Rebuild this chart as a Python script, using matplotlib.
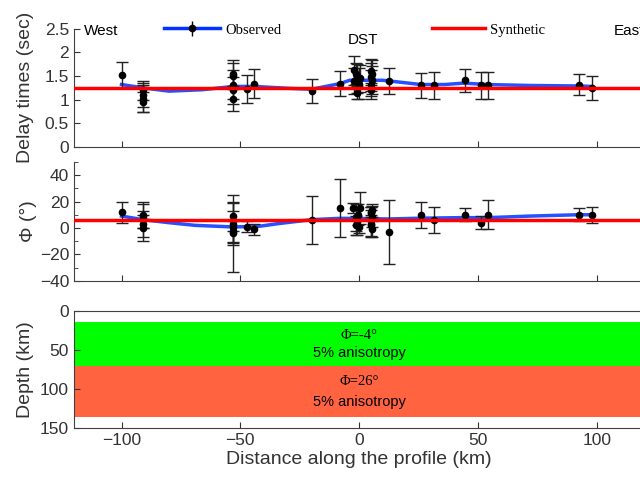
import matplotlib
matplotlib.use('Agg')
import matplotlib.pyplot as plt
from matplotlib.lines import Line2D
from matplotlib.legend_handler import HandlerTuple
from matplotlib.ticker import MultipleLocator

plt.rcParams['font.family'] = ['Liberation Sans', 'DejaVu Sans']

# delay times (sec) per station
delay_x = [-100, -91, -91, -91, -91, -53, -53, -53, -53, -53, -47.3, -44.3, -19.8, -7.9,
           -2, -1.5, -1, -2, 0, -1, 0.5, 5, 5.5, 5, 5.5, 5, 5,
           12.4, 26.1, 31.4, 44.4, 51.4, 54.2, 92.6, 98.2]
delay_y = [1.52, 1.20, 1.10, 1.02, 0.95, 1.55, 1.50, 1.32, 1.20, 1.02, 1.23, 1.34, 1.18, 1.34,
           1.62, 1.55, 1.45, 1.40, 1.34, 1.15, 1.45, 1.61, 1.54, 1.48, 1.41, 1.32, 1.20,
           1.39, 1.30, 1.30, 1.41, 1.30, 1.30, 1.32, 1.25]
delay_err = [0.27, 0.20, 0.25, 0.28, 0.22, 0.29, 0.28, 0.30, 0.29, 0.27, 0.30, 0.30, 0.25, 0.27,
             0.30, 0.22, 0.30, 0.28, 0.32, 0.14, 0.28, 0.26, 0.30, 0.30, 0.30, 0.30, 0.12,
             0.28, 0.27, 0.29, 0.24, 0.29, 0.29, 0.23, 0.25]

# observed trend (blue) and synthetic (red)
delay_line_x = [-100, -91, -80, -66, -53, -44, -30, -20, -8, -4, 0, 10, 19, 26, 36, 44, 54, 72, 92, 98]
delay_line_y = [1.32, 1.25, 1.18, 1.21, 1.28, 1.28, 1.24, 1.22, 1.34, 1.41, 1.41, 1.41, 1.36, 1.32,
                1.32, 1.35, 1.32, 1.30, 1.29, 1.28]
delay_synth = 1.25

# fast polarization direction (deg)
phi_x = [-100, -91, -91, -91, -91, -53, -53, -53, -53, -53, -47.3, -44.3, -19.8, -7.9,
         -2.5, 0.5, -1.5, -1, -1.5, 0, -0.5, 5.5, 5, 5.5, 5, 5.5, 5, 5,
         12.4, 26.1, 31.4, 44.4, 51.4, 54.2, 92.6, 98.2]
phi_y = [12, 10, 9, 3, 0, 9, 3, 1, -2.5, -4, 1, -1, 6, 15,
         15, 15, 8, 5, 2, 1, 10, 13.4, 11, 8.4, 3.3, -0.5, 12, 2,
         -3, 10, 6, 10, 4, 10, 10, 10]
phi_err = [8, 10, 9, 10, 10, 11, 16, 12, 8, 29, 4, 4, 18, 22,
           4, 12, 10, 10, 7, 5, 8, 5, 5, 8, 10, 6, 4, 8,
           24, 10, 10, 5, 5, 11, 5, 6]

phi_line_x = [-100, -91, -80, -69, -53, -42, -34, -20, -8, 0, 12, 26, 42, 54, 72, 92, 98]
phi_line_y = [9, 6.3, 4, 2, 0.8, 1.3, 3.3, 6.3, 7.3, 7.2, 6.8, 7.4, 7.8, 7.8, 9, 10, 10]
phi_synth = 6

# model layers: (top, bottom, colour, phi text)
layer_top = [14, 70]
layer_bottom = [70, 136]
layer_color = ['#00ff00', '#ff6340']
layer_phi = ['Φ=-4°', 'Φ=26°']
layer_aniso = ['5% anisotropy', '5% anisotropy']

xticks = [-100, -50, 0, 50, 100]
axc = '#404040'

fig = plt.figure(figsize=(6.4, 4.8), dpi=100)
ax1 = fig.add_axes([0.1156, 0.694, 0.891, 0.246])
ax2 = fig.add_axes([0.1156, 0.4146, 0.891, 0.2484])
ax3 = fig.add_axes([0.1156, 0.108, 0.891, 0.244])


def style(ax, labels):
    ax.set_xlim(-120, 120)
    ax.set_xticks(xticks)
    for s in ax.spines.values():
        s.set_color(axc)
    ax.tick_params(direction='in', labelsize=12.5, colors='#333333', length=4)
    ax.tick_params(which='minor', direction='in', length=3, colors='#333333')
    if not labels:
        ax.tick_params(axis='x', labelbottom=False)


# top panel
ax1.plot(delay_line_x, delay_line_y, color='#0033ff', lw=2.5, alpha=0.85, zorder=2)
eb = ax1.errorbar(delay_x, delay_y, yerr=delay_err, fmt='o', color='black', ms=4.5,
                  ecolor='#222222', elinewidth=1, capsize=4, capthick=1, zorder=3)
ax1.axhline(delay_synth, color='#ff0000', lw=2.5, zorder=4)
ax1.set_ylim(0, 2.5)
ax1.set_yticks([0, 0.5, 1, 1.5, 2, 2.5])
ax1.set_yticklabels(['0', '0.5', '1', '1.5', '2', '2.5'])
ax1.spines['top'].set_visible(False)
ax1.spines['right'].set_visible(False)
style(ax1, False)
ax1.set_ylabel('Delay times (sec)', fontsize=14, color='#333333', labelpad=8)
ax1.text(-116, 2.45, 'West', fontsize=11, va='center', ha='left')
ax1.text(107, 2.45, 'East', fontsize=11, va='center', ha='left')
ax1.text(1.7, 2.26, 'DST', fontsize=11, va='center', ha='center')

obs_line = Line2D([], [], color='#0033ff', lw=2.5)
obs_eb = ax1.errorbar([], [], yerr=[], fmt='o', color='black', ms=4.5, capsize=4, elinewidth=1)
leg1 = ax1.legend([(obs_line, obs_eb)], ['Observed'], handler_map={tuple: HandlerTuple(ndivide=1)},
                  loc='center left', bbox_to_anchor=(0.135, 0.99), frameon=False,
                  prop={'family': 'Liberation Serif', 'size': 10.5}, handlelength=3.8,
                  handletextpad=0.4)
ax1.add_artist(leg1)
ax1.legend([Line2D([], [], color='#ff0000', lw=2.5)], ['Synthetic'], loc='center left',
           bbox_to_anchor=(0.605, 0.99), frameon=False,
           prop={'family': 'Liberation Serif', 'size': 10.5}, handlelength=3.6,
           handletextpad=0.4)

# middle panel
ax2.plot(phi_line_x, phi_line_y, color='#0033ff', lw=2.5, alpha=0.85, zorder=2)
ax2.errorbar(phi_x, phi_y, yerr=phi_err, fmt='o', color='black', ms=4.5,
             ecolor='#222222', elinewidth=1, capsize=4, capthick=1, zorder=3)
ax2.axhline(phi_synth, color='#ff0000', lw=2.5, zorder=4)
ax2.set_ylim(-40, 50)
ax2.set_yticks([-40, -20, 0, 20, 40])
ax2.yaxis.set_minor_locator(MultipleLocator(10))
ax2.spines['top'].set_visible(False)
ax2.spines['right'].set_visible(False)
style(ax2, False)
ax2.set_ylabel('Φ (°)', fontsize=14, color='#333333', labelpad=2)

# bottom panel
for top, bot, c, ph, an in zip(layer_top, layer_bottom, layer_color, layer_phi, layer_aniso):
    ax3.axhspan(top, bot, color=c, lw=0)
    mid = (top + bot) / 2
    ax3.text(0, mid - 0.2 * (bot - top), ph, ha='center', va='center', fontsize=10.5,
             family=['Liberation Serif', 'DejaVu Serif'])
    ax3.text(0, mid + 0.2 * (bot - top), an, ha='center', va='center', fontsize=10.5)
ax3.set_ylim(150, 0)
ax3.set_yticks([0, 50, 100, 150])
style(ax3, True)
ax3.set_ylabel('Depth (km)', fontsize=14, color='#333333', labelpad=4)
ax3.set_xlabel('Distance along the profile (km)', fontsize=14, color='#333333', labelpad=2)

fig.savefig('out.png', dpi=100)
